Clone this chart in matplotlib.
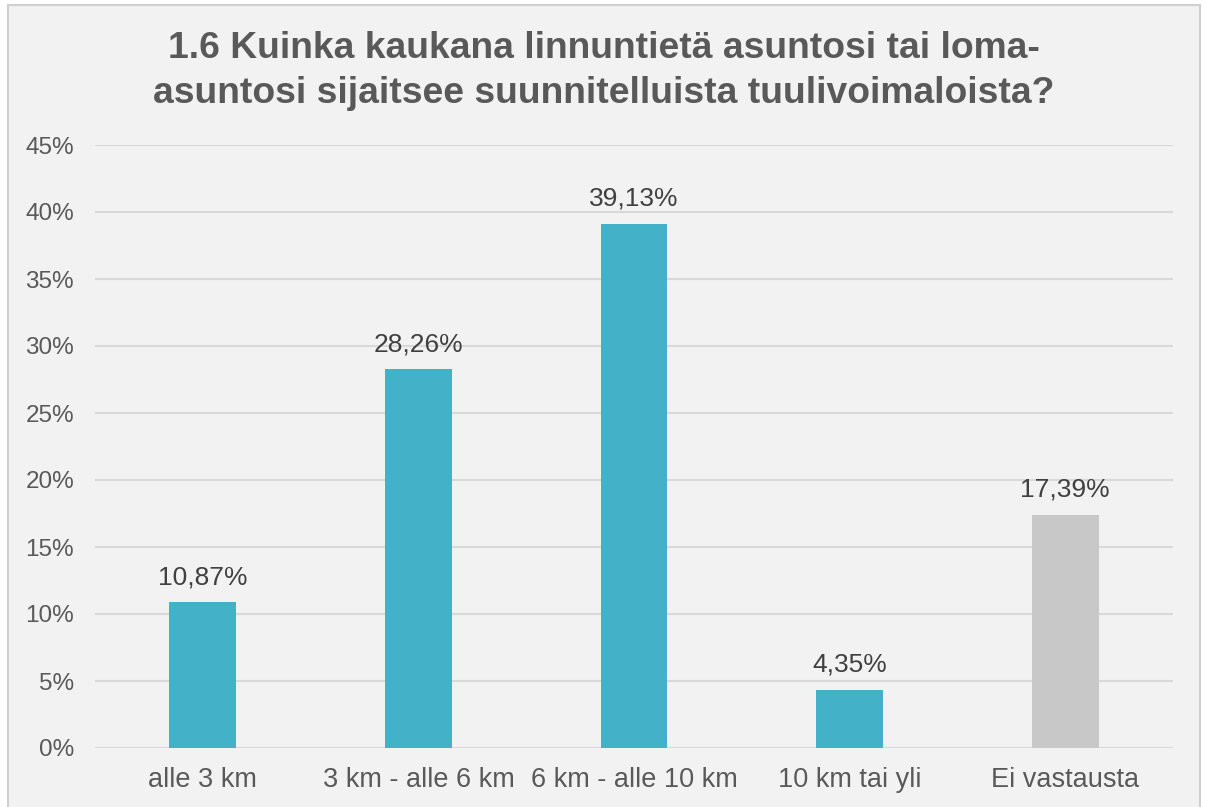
import matplotlib
matplotlib.use("Agg")
import matplotlib.pyplot as plt
from matplotlib.patches import Rectangle

categories = ["alle 3 km", "3 km - alle 6 km", "6 km - alle 10 km", "10 km tai yli", "Ei vastausta"]
values = [10.87, 28.26, 39.13, 4.35, 17.39]
bar_colors = ["#43B1C7", "#43B1C7", "#43B1C7", "#43B1C7", "#C8C8C8"]
yticks = [0, 5, 10, 15, 20, 25, 30, 35, 40, 45]
title = "1.6 Kuinka kaukana linnuntietä asuntosi tai loma-\nasuntosi sijaitsee suunnitelluista tuulivoimaloista?"

W, H = 1205, 807
plt.rcParams['font.family'] = ['Liberation Sans', 'DejaVu Sans']
fig = plt.figure(figsize=(W / 100, H / 100), dpi=100)
fig.patch.set_facecolor("white")
# chart area background + border
fig.patches.append(Rectangle((8 / W, -0.01), (1200 - 8) / W, (H - 5) / H + 0.01,
                             transform=fig.transFigure, facecolor="#F2F2F2",
                             edgecolor="#D0D0D0", linewidth=1.5, zorder=-10))

left, right, top, bottom = 95, 1173, 145, 748
ax = fig.add_axes([left / W, 1 - bottom / H, (right - left) / W, (bottom - top) / H])
ax.set_zorder(5)
ax.set_facecolor("none")
x = list(range(len(categories)))
ax.bar(x, values, width=0.31, color=bar_colors, zorder=3)
ax.set_xlim(-0.5, len(categories) - 0.5)
ax.set_ylim(0, 45)
ax.set_yticks(yticks)
ax.set_yticklabels([f"{t}%" for t in yticks], fontsize=17.5, color="#595959")
ax.set_xticks(x)
ax.set_xticklabels(categories, fontsize=19.5, color="#595959")
ax.tick_params(axis="both", length=0)
ax.tick_params(axis="y", pad=15)
ax.tick_params(axis="x", pad=14)
ax.grid(axis="y", color="#D9D9D9", linewidth=1.5, zorder=0)
for s in ax.spines.values():
    s.set_visible(False)

for xi, v in zip(x, values):
    ax.annotate(f"{v:.2f}".replace(".", ",") + "%", (xi, v), xytext=(0, 13),
                textcoords="offset points", ha="center", va="baseline",
                fontsize=19, color="#404040")

fig.text(604 / W, 1 - 71 / H, title, ha="center", va="center", fontsize=26.8,
         fontweight="bold", color="#595959", linespacing=1.36, zorder=6)

fig.savefig("out.png", dpi=100)
